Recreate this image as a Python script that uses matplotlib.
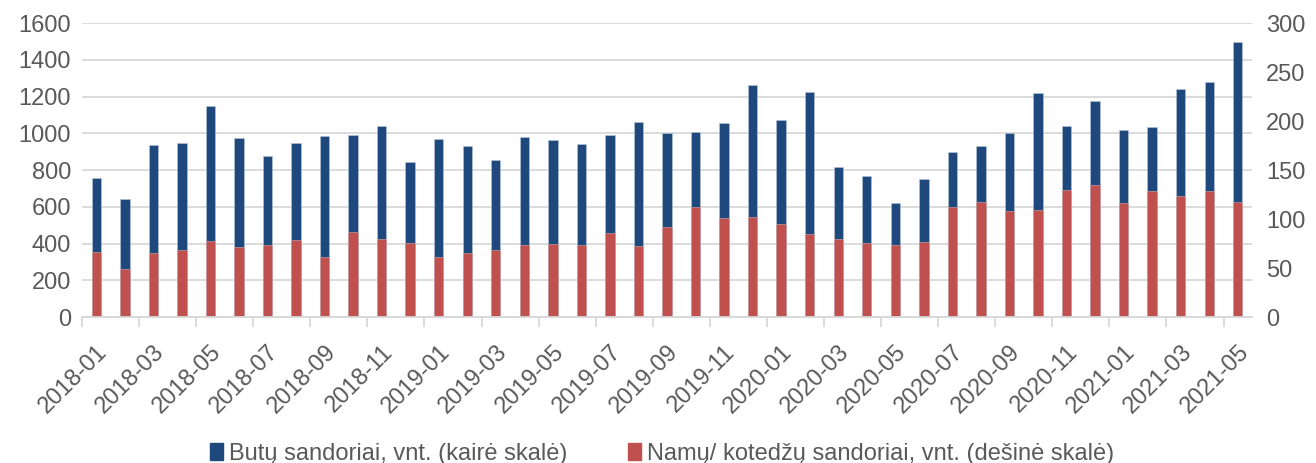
import matplotlib.pyplot as plt
from matplotlib.patches import Patch

plt.rcParams['font.family'] = ['Liberation Sans', 'DejaVu Sans']

# months 2018-01 .. 2021-05
menesiai = []
for metai in range(2018, 2022):
    for m in range(1, 13):
        menesiai.append(f"{metai}-{m:02d}")
menesiai = menesiai[:41]

butai = [755, 640, 935, 945, 1150, 973, 875, 945, 985, 990, 1040, 842,
         970, 930, 852, 980, 963, 940, 992, 1060, 1000, 1005, 1055, 1263,
         1073, 1224, 815, 770, 618, 752, 898, 933, 1000, 1220, 1037, 1178,
         1018, 1032, 1243, 1278, 1495]
namai = [66, 49, 65, 68, 78, 71, 73, 79, 61, 87, 80, 76,
         61, 65, 68, 73, 74, 73, 86, 72, 92, 112, 101, 102,
         95, 85, 80, 76, 73, 77, 112, 117, 108, 109, 130, 135,
         116, 129, 123, 129, 117]

blue = '#1F497D'
red = '#C0504D'
txt = '#595959'
x = list(range(len(menesiai)))

fig = plt.figure(figsize=(13.16, 4.63), dpi=100)
ax = fig.add_axes([0.0623, 0.3153, 0.8891, 0.635])
ax2 = ax.twinx()

ax.bar(x, butai, width=0.33, color=blue, edgecolor='#B8C7DA', linewidth=0.4, zorder=2)
ax2.bar(x, namai, width=0.33, color=red, edgecolor='#D9A9A8', linewidth=0.4, zorder=2)

ax.set_ylim(0, 1600)
ax.set_yticks(range(0, 1601, 200))
ax2.set_ylim(0, 300)
ax2.set_yticks(range(0, 301, 50))
ax.set_xlim(-0.5, len(x) - 0.5)

ax.yaxis.grid(True, color='#D9D9D9', linewidth=1.3, zorder=0)
ax.set_axisbelow(True)

for a in (ax, ax2):
    for s in ('top', 'left', 'right'):
        a.spines[s].set_visible(False)
    a.spines['bottom'].set_color('#D9D9D9')
    a.spines['bottom'].set_linewidth(1.3)
    a.tick_params(axis='y', length=0, labelsize=17, labelcolor=txt)

ax.tick_params(axis='y', pad=8)
ax2.tick_params(axis='y', pad=10)

ax.set_xticks(x[::2])
ax.set_xticklabels(menesiai[::2], rotation=45, ha='right', rotation_mode='anchor')
ax.tick_params(axis='x', length=0, labelsize=17, labelcolor=txt, pad=17)
ax.set_xticks([i - 0.5 for i in range(0, len(x), 2)], minor=True)
ax.tick_params(axis='x', which='minor', length=7, color='#D9D9D9', width=1.3)

handles = [Patch(color=blue, label='Butų sandoriai, vnt. (kairė skalė)'),
           Patch(color=red, label='Namų/ kotedžų sandoriai, vnt. (dešinė skalė)')]
leg = fig.legend(handles=handles, loc='lower center', bbox_to_anchor=(0.503, -0.05),
                 ncol=2, frameon=False, fontsize=17, handlelength=0.55, handleheight=0.75,
                 handletextpad=0.25, columnspacing=2.6)
for t in leg.get_texts():
    t.set_color(txt)

fig.savefig('out.png', dpi=100)
